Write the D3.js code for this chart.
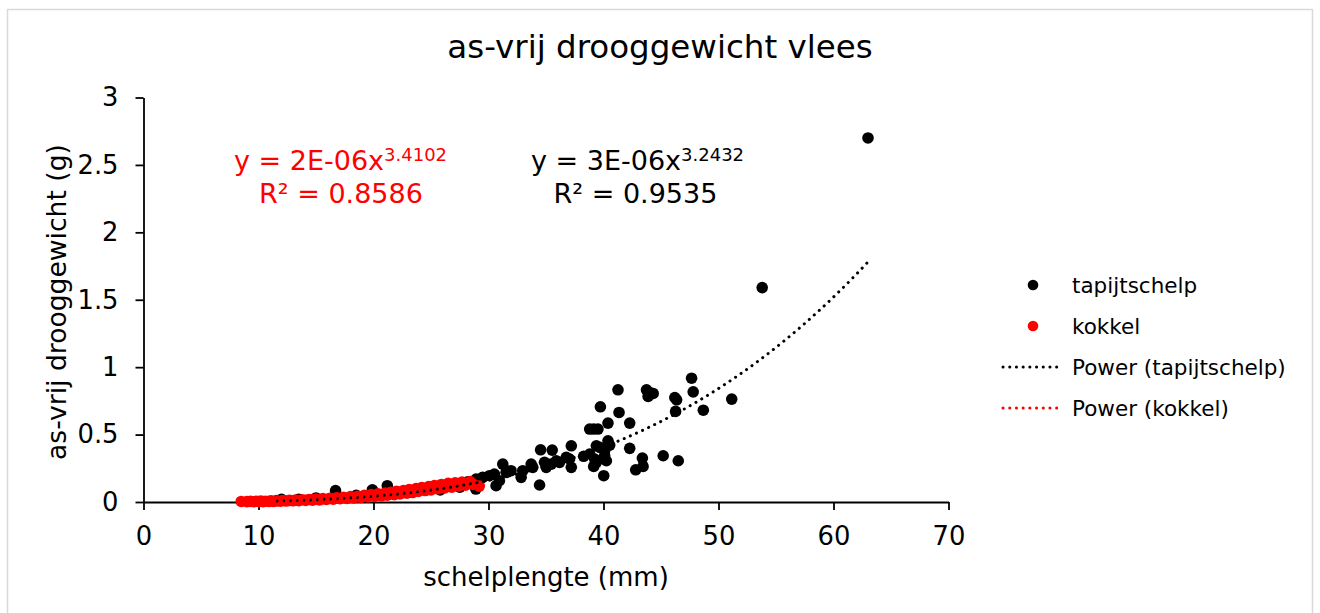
<!DOCTYPE html>
<meta charset="utf-8">
<style>
  body { margin: 0; background: #fff; }
  text { font-family: "DejaVu Sans", Verdana, sans-serif; }
</style>
<svg width="1320" height="613"></svg>
<script src="https://d3js.org/d3.v7.min.js"></script>
<script>
// tapijtschelp (black)
var tapX = [63.0, 53.8, 51.15, 48.68, 47.66, 47.8, 46.2, 46.36, 46.27, 46.5, 45.19, 44.32, 44.03, 43.74, 43.88,
  43.38, 43.44, 42.8, 42.28, 42.28, 41.26, 41.35, 40.39, 40.39, 40.54, 40.25, 40.1, 40.1, 40.02, 39.73,
  39.67, 39.52, 39.15, 38.8, 39.38, 39.23, 39.15, 39.38, 38.27, 38.8, 37.2, 37.05, 36.76, 37.2, 36.18,
  35.89, 35.46, 35.54, 34.53, 34.87, 35.02, 34.44, 33.71, 33.85, 32.98, 32.84, 31.96, 31.24, 31.53, 30.95,
  30.66, 30.51, 30.08, 29.49, 28.92, 28.9, 28.2, 27.5, 26.5, 25.8, 24.8, 23.5, 22.6, 21.2, 19.9,
  18.5, 16.7, 15.0, 13.5, 12.0, 11.6];
var tapY = [2.70, 1.59, 0.763, 0.681, 0.918, 0.817, 0.775, 0.758, 0.672, 0.306, 0.343, 0.805, 0.812, 0.832, 0.783,
  0.326, 0.264, 0.239, 0.585, 0.398, 0.832, 0.664, 0.585, 0.454, 0.422, 0.306, 0.343, 0.38, 0.195, 0.706,
  0.405, 0.541, 0.541, 0.541, 0.294, 0.319, 0.264, 0.417, 0.339, 0.356, 0.417, 0.319, 0.331, 0.257, 0.294,
  0.306, 0.281, 0.385, 0.387, 0.294, 0.257, 0.126, 0.281, 0.257, 0.232, 0.183, 0.232, 0.281, 0.22, 0.158,
  0.121, 0.207, 0.195, 0.183, 0.170, 0.096, 0.15, 0.11, 0.12, 0.09, 0.10, 0.08, 0.07, 0.121, 0.091,
  0.05, 0.084, 0.03, 0.02, 0.02, 0.01];

// kokkel (red)
var kokX = [8.5, 9.0, 9.3, 9.6, 9.8, 10.0, 10.2, 10.4, 10.6, 10.9, 11.1, 11.3, 11.6, 11.9, 12.1, 12.4, 12.7, 13.0,
  13.2, 13.5, 13.8, 14.1, 14.4, 14.7, 15.0, 15.3, 15.6, 15.9, 16.2, 16.5, 16.8, 17.1, 17.4, 17.7, 18.0, 18.3,
  18.6, 18.9, 19.2, 19.5, 19.8, 20.1, 20.4, 20.7, 21.0, 21.2, 21.5, 21.8, 22.0, 22.3, 22.6, 22.9, 23.1, 23.4,
  23.7, 23.9, 24.2, 24.5, 24.8, 25.0, 25.3, 25.6, 25.9, 26.2, 26.5, 26.8, 27.1, 27.4, 27.7, 28.0, 28.4, 28.7, 29.2];
var kokY = [0.004, 0.003, 0.005, 0.002, 0.006, 0.004, 0.007, 0.003, 0.006, 0.005, 0.008, 0.004, 0.009, 0.006, 0.011,
  0.007, 0.012, 0.009, 0.014, 0.010, 0.017, 0.012, 0.019, 0.014, 0.022, 0.016, 0.025, 0.019, 0.027, 0.021, 0.031,
  0.024, 0.035, 0.027, 0.040, 0.030, 0.043, 0.034, 0.050, 0.038, 0.055, 0.042, 0.060, 0.046, 0.066, 0.050, 0.072,
  0.055, 0.080, 0.060, 0.085, 0.065, 0.092, 0.070, 0.100, 0.078, 0.108, 0.085, 0.115, 0.090, 0.122, 0.098, 0.130,
  0.105, 0.138, 0.110, 0.142, 0.118, 0.148, 0.125, 0.152, 0.130, 0.118];

var tapA = 2.6e-6, tapB = 3.2432;
var kokA = 1.7e-6, kokB = 3.4102;

var xTicks = [0, 10, 20, 30, 40, 50, 60, 70];
var yTicks = [0, 0.5, 1, 1.5, 2, 2.5, 3];

var svg = d3.select("svg");

svg.append("rect")
  .attr("x", 7.5).attr("y", 9.5)
  .attr("width", 1305).attr("height", 620)
  .attr("fill", "#fff").attr("stroke", "#d9d9d9").attr("stroke-width", 1.5);

var x = d3.scaleLinear().domain([0, 70]).range([143.5, 948.5]);
var y = d3.scaleLinear().domain([0, 3]).range([502, 97.5]);

var xAxis = svg.append("g")
  .attr("transform", "translate(0," + y(0) + ")")
  .call(d3.axisBottom(x).tickValues(xTicks).tickSize(8).tickSizeOuter(0).tickPadding(17).tickFormat(d3.format("d")));
var yAxis = svg.append("g")
  .attr("transform", "translate(" + x(0) + ",0)")
  .call(d3.axisLeft(y).tickValues(yTicks).tickSize(8).tickSizeOuter(0).tickPadding(17).tickFormat(function(d) { return String(d); }));

[xAxis, yAxis].forEach(function(g) {
  g.selectAll("path, line").attr("stroke", "#000").attr("stroke-width", 1.8);
  g.selectAll("text").attr("font-size", "25.8px").attr("fill", "#000")
    .style("font-family", "'DejaVu Sans', Verdana, sans-serif");
});

// points
var tapData = tapX.map(function(v, i) { return [v, tapY[i]]; });
var kokData = kokX.map(function(v, i) { return [v, kokY[i]]; });

svg.append("g").selectAll("circle").data(tapData).enter().append("circle")
  .attr("cx", function(d) { return x(d[0]); })
  .attr("cy", function(d) { return y(d[1]); })
  .attr("r", 5.8).attr("fill", "#000");

// trendline
function trend(a, b, xs) {
  var lo = d3.min(xs), hi = d3.max(xs), pts = [];
  for (var i = 0; i <= 120; i++) {
    var xv = lo + (hi - lo) * i / 120;
    pts.push([xv, a * Math.pow(xv, b)]);
  }
  return pts;
}
var line = d3.line().x(function(d) { return x(d[0]); }).y(function(d) { return y(d[1]); });

svg.append("g").selectAll("circle").data(kokData).enter().append("circle")
  .attr("cx", function(d) { return x(d[0]); })
  .attr("cy", function(d) { return y(d[1]); })
  .attr("r", 5.8).attr("fill", "#ff0000");

svg.append("path").datum(trend(tapA, tapB, tapX)).attr("d", line)
  .attr("fill", "none").attr("stroke", "#000").attr("stroke-width", 3)
  .attr("stroke-linecap", "round").attr("stroke-dasharray", "0.1,6.6");
svg.append("path").datum(trend(kokA, kokB, kokX)).attr("d", line)
  .attr("fill", "none").attr("stroke", "#ff0000").attr("stroke-width", 3)
  .attr("stroke-linecap", "round").attr("stroke-dasharray", "0.1,6.6");

// title and axis titles
svg.append("text").attr("x", 660).attr("y", 58).attr("text-anchor", "middle")
  .attr("font-size", "32.5px").attr("fill", "#000").text("as-vrij drooggewicht vlees");
svg.append("text").attr("x", 546).attr("y", 586).attr("text-anchor", "middle")
  .attr("font-size", "26px").attr("fill", "#000").text("schelplengte (mm)");
svg.append("text").attr("transform", "translate(66,302) rotate(-90)").attr("text-anchor", "middle")
  .attr("font-size", "26.6px").attr("fill", "#000").text("as-vrij drooggewicht (g)");

// trendline labels
function eqLabel(cx1, cx2, col, coef, expo, r2) {
  var t = svg.append("text").attr("x", cx1).attr("y", 170).attr("text-anchor", "middle")
    .attr("font-size", "27px").attr("fill", col);
  t.append("tspan").text("y = " + coef + "x");
  t.append("tspan").attr("dy", -9).attr("font-size", "18px").text(expo);
  svg.append("text").attr("x", cx2).attr("y", 202.5).attr("text-anchor", "middle")
    .attr("font-size", "27px").attr("fill", col).text("R² = " + r2);
}
eqLabel(340.5, 341, "#ff0000", "2E-06", "3.4102", "0.8586");
eqLabel(637.5, 635.5, "#000", "3E-06", "3.2432", "0.9535");

// legend
var legItems = [
  { name: "tapijtschelp", col: "#000", kind: "dot" },
  { name: "kokkel", col: "#ff0000", kind: "dot" },
  { name: "Power (tapijtschelp)", col: "#000", kind: "line" },
  { name: "Power (kokkel)", col: "#ff0000", kind: "line" }
];
var leg = svg.append("g").selectAll("g").data(legItems).enter().append("g")
  .attr("transform", function(d, i) { return "translate(0," + (285 + i * 41) + ")"; });
leg.filter(function(d) { return d.kind === "dot"; }).append("circle")
  .attr("cx", 1033).attr("cy", 0).attr("r", 5.3).attr("fill", function(d) { return d.col; });
leg.filter(function(d) { return d.kind === "line"; }).append("line")
  .attr("x1", 1003).attr("x2", 1061).attr("y1", 0).attr("y2", 0)
  .attr("stroke", function(d) { return d.col; }).attr("stroke-width", 3)
  .attr("stroke-linecap", "round").attr("stroke-dasharray", "0.1,6.6");
leg.append("text").attr("x", 1072).attr("y", 7.5).attr("font-size", "21.5px").attr("fill", "#000")
  .text(function(d) { return d.name; });
</script>
